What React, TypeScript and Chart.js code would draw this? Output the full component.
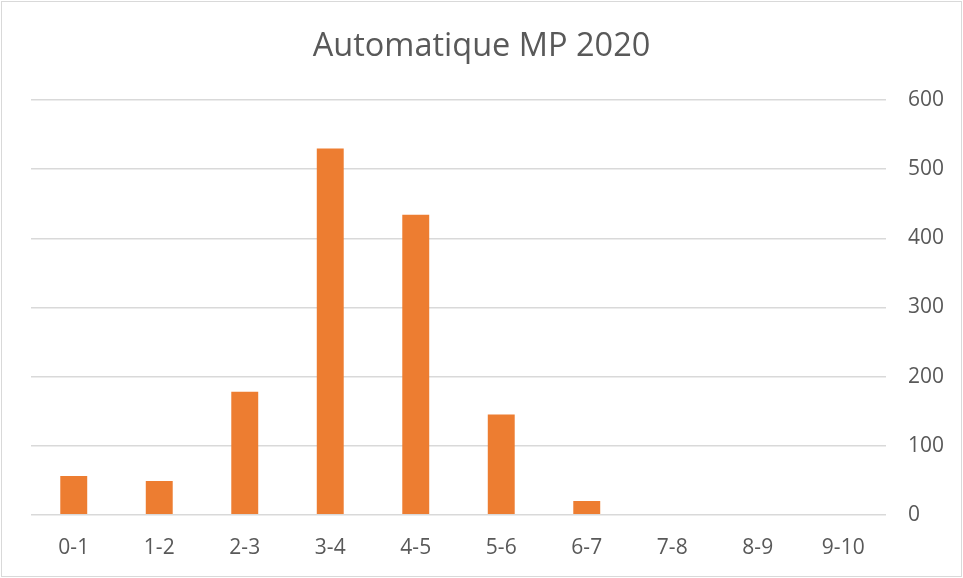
import React, { useEffect, useRef } from "react";
import { Chart, registerables } from "chart.js";

Chart.register(...registerables);

const categories = ["0-1", "1-2", "2-3", "3-4", "4-5", "5-6", "6-7", "7-8", "8-9", "9-10"];
const values = [56, 49, 178, 530, 434, 145, 20, 0, 0, 0];
const titleText = "Automatique MP 2020";

const borderPlugin = {
  id: "outerBorder",
  afterDraw(chart: any) {
    const ctx = chart.ctx;
    ctx.save();
    ctx.strokeStyle = "#d9d9d9";
    ctx.lineWidth = 1;
    ctx.strokeRect(1.5, 1.5, chart.width - 3, chart.height - 3);
    ctx.restore();
  },
};

export default function App() {
  const ref = useRef<HTMLCanvasElement>(null);
  useEffect(() => {
    document.body.style.margin = "0";
    const chart = new Chart(ref.current!, {
      type: "bar",
      data: {
        labels: categories,
        datasets: [
          {
            data: values,
            backgroundColor: "#ED7D31",
            categoryPercentage: 1,
            barPercentage: 0.315,
          },
        ],
      },
      options: {
        animation: false,
        responsive: false,
        layout: { padding: { left: 0, right: 0, top: 0, bottom: 4 } },
        plugins: {
          legend: { display: false },
          tooltip: { enabled: false },
          title: {
            display: true,
            text: titleText,
            color: "#595959",
            font: { family: "'Open Sans'", size: 32.5, weight: "normal" },
            padding: { top: 27, bottom: 34 },
          },
        },
        scales: {
          x: {
            grid: { display: false },
            border: { display: false },
            ticks: {
              color: "#595959",
              font: { family: "'Open Sans'", size: 21 },
              padding: 13,
              maxRotation: 0,
            },
          },
          y: {
            position: "right",
            min: 0,
            max: 600,
            afterFit: (s: any) => {
              s.width = 77;
            },
            grid: { color: "#d9d9d9", lineWidth: 1.5, drawTicks: false },
            border: { display: false },
            ticks: {
              stepSize: 100,
              color: "#595959",
              font: { family: "'Open Sans'", size: 21 },
              padding: 22,
            },
          },
          yLeft: {
            position: "left",
            display: true,
            min: 0,
            max: 600,
            afterFit: (s: any) => {
              s.width = 31;
            },
            grid: { display: false, drawTicks: false },
            border: { display: false },
            ticks: { display: false },
          },
        },
      },
      plugins: [borderPlugin],
    });
    return () => chart.destroy();
  }, []);
  return (
    <div style={{ width: 963, height: 578 }}>
      <canvas ref={ref} width={963} height={578} style={{ display: "block" }} />
    </div>
  );
}
